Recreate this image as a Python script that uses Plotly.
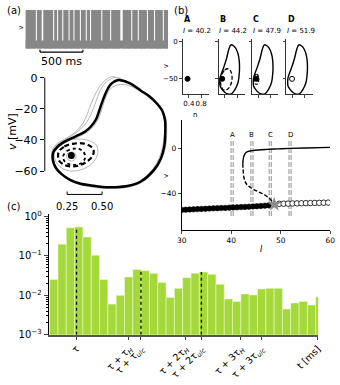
import plotly.graph_objects as go

W, H = 340, 385
def fx(p): return p / W
def fy(p): return 1 - p / H

FONT = "DejaVu Sans"
GRAY_TRACE = "#878787"
BAR_GREEN = "#a5d83b"

# ---------------- (a) voltage trace ----------------
burst_start_ms = [0, 134, 208, 335, 381, 441, 514, 571, 646, 714, 764, 895, 998, 1132, 1244, 1320, 1426, 1509, 1611]
burst_end_ms = [122, 190, 323, 369, 429, 502, 559, 634, 702, 752, 883, 986, 1105, 1232, 1308, 1414, 1497, 1599, 1660]
trace_len_ms = 1660
spike_peak_mv = 2
trough_mv = -66
subthreshold_top_mv = -52
scalebar_ms = [170, 670]

# ---------------- (a) phase portrait ----------------
n_cycle = [0.63, 0.70, 0.778, 0.84, 0.894, 0.93, 0.95, 0.952, 0.945, 0.92, 0.87, 0.778, 0.69, 0.59, 0.50, 0.43, 0.34, 0.27, 0.21, 0.17, 0.148, 0.15, 0.18, 0.22, 0.315, 0.38, 0.42, 0.455, 0.48, 0.505, 0.53, 0.555, 0.58, 0.61, 0.63]
v_cycle = [-1.5, -3.5, -8.3, -12, -16.7, -21, -27, -35, -44, -52, -59.4, -66.7, -69.5, -70.4, -70.2, -69.4, -68, -65.6, -62, -58, -53, -48, -44.5, -41.7, -37.5, -34.5, -31.3, -27, -21, -14.5, -9, -5, -2.8, -1.6, -1.5]

n_gray1 = [0.57, 0.65, 0.75, 0.85, 0.92, 0.955, 0.962, 0.955, 0.925, 0.875, 0.785, 0.69, 0.59, 0.50, 0.42, 0.33, 0.26, 0.20, 0.16, 0.14, 0.143, 0.17, 0.21, 0.27, 0.32, 0.365, 0.395, 0.425, 0.46, 0.50, 0.54, 0.57]
v_gray1 = [0.8, -1.5, -6.5, -13, -19.5, -26, -35, -44, -52.5, -60, -67.3, -70.3, -71.2, -71, -70.2, -68.5, -65.5, -61.5, -57, -52, -47, -43, -40.5, -37.5, -34, -29, -23, -16, -9, -3.5, -0.5, 0.8]
n_gray2 = [0.60, 0.68, 0.77, 0.85, 0.91, 0.945, 0.955, 0.95, 0.92, 0.87, 0.78, 0.69, 0.59, 0.50, 0.42, 0.33, 0.26, 0.20, 0.165, 0.145, 0.148, 0.175, 0.22, 0.29, 0.345, 0.39, 0.425, 0.455, 0.485, 0.52, 0.56, 0.60]
v_gray2 = [0.2, -2.5, -7.5, -13, -18.5, -24, -33, -43, -52, -59.7, -67, -70, -70.8, -70.6, -69.8, -68.2, -65.5, -61.5, -57.5, -52.5, -47.5, -43.5, -40.5, -37, -33, -28.5, -22.5, -15.5, -8.5, -3.5, -0.8, 0.2]
n_gray3 = [0.67, 0.74, 0.81, 0.87, 0.915, 0.94, 0.948, 0.94, 0.915, 0.865, 0.775, 0.69, 0.59, 0.50, 0.43, 0.34, 0.27, 0.215, 0.175, 0.155, 0.158, 0.19, 0.24, 0.33, 0.40, 0.445, 0.48, 0.505, 0.53, 0.56, 0.60, 0.67]
v_gray3 = [-4.5, -7, -11, -15.5, -20, -25, -32, -41, -50, -58.5, -66, -69.2, -70, -69.8, -69, -67.6, -65, -61.8, -58, -53.5, -48.5, -44.5, -41.5, -38, -34.5, -30.5, -25, -18, -11.5, -7, -4.8, -4.5]

n_ulc = [0.19, 0.23, 0.30, 0.37, 0.42, 0.44, 0.43, 0.39, 0.33, 0.27, 0.22, 0.19, 0.185, 0.19]
v_ulc = [-47.5, -44.2, -42.3, -42.3, -44.2, -47, -50.5, -54, -56.5, -57, -55.5, -53, -50, -47.5]
n_inner = [0.22, 0.25, 0.31, 0.36, 0.38, 0.35, 0.29, 0.24, 0.22]
v_inner = [-51, -47, -45.5, -47, -51, -55, -56, -54.5, -51]
n_grayloop = [0.16, 0.21, 0.30, 0.39, 0.455, 0.47, 0.44, 0.37, 0.28, 0.21, 0.165, 0.16]
v_grayloop = [-46, -41.5, -39.5, -40, -43, -48, -54, -58.5, -60, -58, -53, -46]
n_grayblob = [0.25, 0.28, 0.31, 0.31, 0.28, 0.25, 0.25]
v_grayblob = [-49, -47.8, -49, -52, -53.5, -52, -49]
fixed_point_nv = [0.28, -50]
n_scalebar = [0.25, 0.50]

# ---------------- (b) small phase panels ----------------
panel_names = ["A", "B", "C", "D"]
panel_I = [40.2, 44.2, 47.9, 51.9]
n_small_cycle = [0.67, 0.75, 0.83, 0.87, 0.88, 0.86, 0.83, 0.74, 0.62, 0.50, 0.41, 0.31, 0.25, 0.24, 0.25, 0.30, 0.36, 0.46, 0.54, 0.60, 0.67]
v_small_cycle = [-4.9, -8, -15.8, -25, -37.8, -48, -55.3, -64, -70.2, -70.5, -68.4, -64, -59.6, -54, -48.7, -42, -35.5, -22.4, -9.2, -4, -4.9]
n_dash_B = [0.30, 0.40, 0.52, 0.60, 0.64, 0.62, 0.56, 0.46, 0.36, 0.29, 0.26, 0.27, 0.30]
v_dash_B = [-45, -38, -36.5, -40, -48, -55, -61, -65, -65, -60, -53, -48, -45]
n_dash_C = [0.30, 0.36, 0.41, 0.41, 0.37, 0.31, 0.28, 0.28, 0.30]
v_dash_C = [-45, -44, -47, -53, -57, -57, -54, -48, -45]
fp_small_n = [0.36, 0.32, 0.34, 0.38]
fp_small_v = [-50, -50, -50, -50]
fp_small_stable = [True, True, True, False]

# ---------------- (b) bifurcation diagram ----------------
I_stable = [30.0, 30.8, 31.6, 32.4, 33.2, 34.0, 34.8, 35.6, 36.4, 37.2, 38.0, 38.8, 39.6, 40.4, 41.2, 42.0, 42.8, 43.6, 44.4, 45.2, 46.0, 46.8, 47.6]
v_stable = [-54.4, -54.2, -54.0, -53.9, -53.7, -53.5, -53.4, -53.2, -53.0, -52.9, -52.7, -52.6, -52.4, -52.2, -52.1, -51.9, -51.7, -51.5, -51.3, -51.1, -50.9, -50.6, -50.3]
I_unstable = [49.7, 50.6, 51.5, 52.4, 53.3, 54.2, 55.1, 56.0, 56.9, 57.8, 58.7, 59.6]
v_unstable = [-49.0, -48.9, -48.8, -48.7, -48.6, -48.5, -48.4, -48.3, -48.2, -48.1, -48.0, -47.9]
I_hopf, v_hopf = 48.7, -49.5
I_slc = [42.35, 42.4, 42.55, 42.75, 43.0, 43.5, 44.3, 45.5, 47.25, 49.5, 51.8, 55.0, 60.0]
v_slc = [-13.2, -10.5, -7.0, -4.8, -3.3, -2.3, -1.7, -1.1, -0.6, -0.1, 0.3, 0.7, 1.2]
I_ulc = [42.35, 42.4, 42.55, 42.8, 43.2, 43.9, 44.6, 45.6, 46.6, 47.8, 48.7]
v_ulc_b = [-13.2, -17.5, -24.8, -29, -32, -34.5, -36.3, -38.5, -40.6, -44.5, -49.5]
vline_v = [7, -60]
label_v = 12

# ---------------- (c) histogram ----------------
hist_vals = [0.025, 0.197, 0.51, 0.54, 0.30, 0.104, 0.025, 0.006, 0.010, 0.029, 0.045,
             0.042, 0.036, 0.021, 0.0088, 0.015, 0.028, 0.036, 0.039, 0.034, 0.019, 0.0081,
             0.007, 0.0108, 0.0102, 0.0145, 0.015, 0.015, 0.0045, 0.0064, 0.007, 0.0057, 0.0091]
bin_width = 1.0
t_range = [-0.12, 32.3]
tick_t = [3.23, 9.54, 10.98, 16.32, 18.25, 23.0, 25.46, 32.25]
tick_labels = ["τ", "τ + τ<sub><i>H</i></sub>", "τ + τ<sub><i>ulc</i></sub>",
               "τ + 2τ<sub><i>H</i></sub>", "τ + 2τ<sub><i>ulc</i></sub>",
               "τ + 3τ<sub><i>H</i></sub>", "τ + 3τ<sub><i>ulc</i></sub>", "t [ms]"]
dotted_t = [3.23, 10.98, 18.25]
ytick_vals = [1, 0.1, 0.01, 0.001]
ytick_text = ["10<sup>0</sup>", "10<sup>−1</sup>", "10<sup>−2</sup>", "10<sup>−3</sup>"]

fig = go.Figure()

# ---- trace
fig.add_trace(go.Bar(x=[trace_len_ms / 2], y=[subthreshold_top_mv - trough_mv], base=trough_mv,
                     width=[trace_len_ms], marker=dict(color=GRAY_TRACE, line_width=0),
                     xaxis="x", yaxis="y"))
fig.add_trace(go.Bar(x=[(s + e) / 2 for s, e in zip(burst_start_ms, burst_end_ms)],
                     y=[spike_peak_mv - trough_mv] * len(burst_start_ms), base=trough_mv,
                     width=[e - s for s, e in zip(burst_start_ms, burst_end_ms)],
                     marker=dict(color=GRAY_TRACE, line_width=0), xaxis="x", yaxis="y"))

# ---- phase portrait
for nn, vv in [(n_gray1, v_gray1), (n_gray2, v_gray2), (n_gray3, v_gray3), (n_grayloop, v_grayloop), (n_grayblob, v_grayblob)]:
    fig.add_trace(go.Scatter(x=nn, y=vv, mode="lines", line=dict(color="#b5b5b5", width=1, shape="spline"),
                             xaxis="x2", yaxis="y2"))
fig.add_trace(go.Scatter(x=n_cycle, y=v_cycle, mode="lines", line=dict(color="black", width=2.5, shape="spline"),
                         xaxis="x2", yaxis="y2"))
fig.add_trace(go.Scatter(x=n_ulc, y=v_ulc, mode="lines", line=dict(color="black", width=2.2, dash="5px,3px", shape="spline"),
                         xaxis="x2", yaxis="y2"))
fig.add_trace(go.Scatter(x=n_inner, y=v_inner, mode="lines", line=dict(color="black", width=1.8, dash="dot", shape="spline"),
                         xaxis="x2", yaxis="y2"))
fig.add_trace(go.Scatter(x=[fixed_point_nv[0]], y=[fixed_point_nv[1]], mode="markers",
                         marker=dict(color="black", size=7), xaxis="x2", yaxis="y2"))

# ---- small panels
for k in range(4):
    ax = str(3 + k)
    if k > 0:
        fig.add_trace(go.Scatter(x=n_small_cycle, y=v_small_cycle, mode="lines",
                                 line=dict(color="black", width=1.4, shape="spline"),
                                 xaxis="x" + ax, yaxis="y" + ax))
    if k == 1:
        fig.add_trace(go.Scatter(x=n_dash_B, y=v_dash_B, mode="lines",
                                 line=dict(color="black", width=1.3, dash="4px,2px", shape="spline"),
                                 xaxis="x" + ax, yaxis="y" + ax))
    if k == 2:
        fig.add_trace(go.Scatter(x=n_dash_C, y=v_dash_C, mode="lines",
                                 line=dict(color="black", width=1.3, dash="3px,2px", shape="spline"),
                                 xaxis="x" + ax, yaxis="y" + ax))
    filled = fp_small_stable[k]
    fig.add_trace(go.Scatter(x=[fp_small_n[k]], y=[fp_small_v[k]], mode="markers",
                             marker=dict(color="black" if filled else "white", size=5,
                                         line=dict(color="black", width=1)),
                             xaxis="x" + ax, yaxis="y" + ax))

# ---- bifurcation diagram
for Iv in panel_I:
    fig.add_trace(go.Scatter(x=[Iv, Iv], y=vline_v, mode="lines",
                             line=dict(color="#9a9a9a", width=3.2, dash="5px,2px"), xaxis="x7", yaxis="y7"))
    fig.add_trace(go.Scatter(x=[Iv, Iv], y=vline_v, mode="lines",
                             line=dict(color="white", width=1), xaxis="x7", yaxis="y7"))
fig.add_trace(go.Scatter(x=I_slc, y=v_slc, mode="lines", line=dict(color="black", width=1.4, shape="spline"),
                         xaxis="x7", yaxis="y7"))
fig.add_trace(go.Scatter(x=I_ulc, y=v_ulc_b, mode="lines", line=dict(color="black", width=1.4, dash="4px,2px", shape="spline"),
                         xaxis="x7", yaxis="y7"))
fig.add_trace(go.Scatter(x=I_stable, y=v_stable, mode="markers",
                         marker=dict(color="black", size=5.5, line=dict(color="black", width=0.5)),
                         xaxis="x7", yaxis="y7"))
fig.add_trace(go.Scatter(x=I_unstable, y=v_unstable, mode="markers",
                         marker=dict(color="white", size=5.5, line=dict(color="black", width=0.8)),
                         xaxis="x7", yaxis="y7"))
fig.add_trace(go.Scatter(x=[I_hopf], y=[v_hopf], mode="markers",
                         marker=dict(color="#8c8c8c", size=11, symbol="star"), xaxis="x7", yaxis="y7"))

# ---- histogram
fig.add_trace(go.Bar(x=[(i + 0.5) * bin_width for i in range(len(hist_vals))], y=hist_vals,
                     width=[bin_width] * len(hist_vals),
                     marker=dict(color=BAR_GREEN, line=dict(color="rgba(235,250,210,0.8)", width=0.7)),
                     xaxis="x8", yaxis="y8"))
for t in dotted_t:
    fig.add_trace(go.Scatter(x=[t, t], y=[ytick_vals[-1], hist_vals[int(t // bin_width)]], mode="lines",
                             line=dict(color="black", width=1.3, dash="dot"), xaxis="x8", yaxis="y8"))

tickfont_small = dict(family=FONT, size=7, color="black")
hidden = dict(visible=False, showgrid=False, zeroline=False)

layout = dict(
    width=W, height=385, margin=dict(l=0, r=0, t=0, b=0),
    paper_bgcolor="white", plot_bgcolor="rgba(0,0,0,0)", showlegend=False, barmode="overlay",
    font=dict(family=FONT, color="black"),
    xaxis=dict(domain=[fx(21), fx(168)], range=[0, trace_len_ms], anchor="y", **hidden),
    yaxis=dict(domain=[fy(46), fy(4)], range=[-68, 4], anchor="x", **hidden),
    xaxis2=dict(domain=[fx(41), fx(168)], range=[0.09, 0.972], anchor="y2", **hidden),
    yaxis2=dict(domain=[fy(190), fy(70)], range=[-71.9, 3.1], anchor="x2", showgrid=False, zeroline=False,
                showline=False, tickvals=[0, -20, -40, -60], ticks="outside", ticklen=4, tickwidth=1,
                tickcolor="black", tickfont=dict(family=FONT, size=11)),
    xaxis7=dict(domain=[fx(182), fx(335)], range=[30, 60], anchor="y7", showgrid=False, zeroline=False,
                showline=True, linecolor="black", linewidth=0.8, tickvals=[30, 40, 50, 60], ticks="outside",
                ticklen=3, tickwidth=0.8, tickangle=0, tickfont=dict(family=FONT, size=7.5)),
    yaxis7=dict(domain=[fy(232), fy(118)], range=[-72.6, 25.9], anchor="x7", showgrid=False, zeroline=False,
                showline=True, linecolor="black", linewidth=0.8, tickvals=[0, -40], ticks="outside",
                ticklen=3, tickwidth=0.8, tickfont=dict(family=FONT, size=7.5)),
    xaxis8=dict(domain=[fx(45), fx(322.7)], range=t_range, anchor="y8", showgrid=False, zeroline=False,
                showline=True, linecolor="#555555", linewidth=1.5, tickvals=tick_t, ticktext=tick_labels,
                ticks="outside", ticklen=3, tickwidth=1, tickangle=-45, tickfont=dict(family=FONT, size=9.5)),
    yaxis8=dict(domain=[fy(339.5), fy(215.5)], type="log", range=[-3, 0.05], anchor="x8", showgrid=False,
                zeroline=False, showline=True, linecolor="black", linewidth=1, tickvals=ytick_vals,
                ticktext=ytick_text, ticks="outside", ticklen=4, tickwidth=1, tickfont=dict(family=FONT, size=10),
                minor=dict(ticks="outside", ticklen=2, tickwidth=0.7, tickcolor="black",
                           tickvals=[m * 10 ** e for e in [-3, -2, -1] for m in range(2, 10)])),
)
panel_left = [183, 220, 254.5, 290]
for k in range(4):
    ax = str(3 + k)
    layout["xaxis" + ax] = dict(domain=[fx(panel_left[k]), fx(panel_left[k] + 27)], range=[0.2, 1.05],
                                anchor="y" + ax, showgrid=False, zeroline=False, showline=True,
                                linecolor="#333", linewidth=0.8, tickvals=[0.4, 0.8], ticks="outside",
                                ticklen=2.5, tickwidth=0.7, tickangle=0, showticklabels=(k == 0),
                                tickfont=tickfont_small)
    layout["yaxis" + ax] = dict(domain=[fy(92), fy(35)], range=[-71, 3.9], anchor="x" + ax,
                                showgrid=False, zeroline=False, showline=True, linecolor="#333",
                                linewidth=0.8, tickvals=[0, -50], ticks="outside", ticklen=2.5,
                                tickwidth=0.7, showticklabels=(k == 0), tickfont=tickfont_small)
fig.update_layout(**layout)

shapes = []
shapes.append(dict(type="line", xref="x", yref="paper", x0=scalebar_ms[0], x1=scalebar_ms[1],
                   y0=fy(48.5), y1=fy(48.5), line=dict(color="black", width=1.2)))
for t in scalebar_ms:
    shapes.append(dict(type="line", xref="x", yref="paper", x0=t, x1=t, y0=fy(48.5), y1=fy(46),
                       line=dict(color="black", width=1.2)))
shapes.append(dict(type="line", xref="paper", yref="y2", x0=fx(41), x1=fx(41), y0=0, y1=-60,
                   line=dict(color="black", width=1)))
shapes.append(dict(type="line", xref="x2", yref="paper", x0=n_scalebar[0], x1=n_scalebar[1],
                   y0=fy(195), y1=fy(195), line=dict(color="black", width=1)))
for n in n_scalebar:
    shapes.append(dict(type="line", xref="x2", yref="paper", x0=n, x1=n, y0=fy(195), y1=fy(192),
                       line=dict(color="black", width=1)))
fig.update_layout(shapes=shapes)

ann = []
def A(x, y, text, size, **kw):
    d = dict(x=x, y=y, xref="paper", yref="paper", text=text, showarrow=False,
             xanchor="center", yanchor="middle",
             font=dict(family=FONT, size=size, color="black"))
    d.update(kw)
    ann.append(d)

A(fx(0), fy(6), "(a)", 10, xanchor="left")
A(fx(172), fy(6), "(b)", 10, xanchor="left")
A(fx(0), fy(207), "(c)", 10, xanchor="left")
A(fx(17), fy(24), "v", 7, textangle=-90)
A(fx(58), fy(58), "500 ms", 11)
A(fx(7), fy(130), "<i>v</i> [mV]", 11, textangle=-90)
for n in n_scalebar:
    ann.append(dict(x=n, y=fy(207), xref="x2", yref="paper", text=f"{n:.2f}", showarrow=False,
                    xanchor="center", yanchor="middle", font=dict(family=FONT, size=10, color="black")))
for k in range(4):
    A(fx(panel_left[k] - 1), fy(15), f"<b>{panel_names[k]}</b>", 8, xanchor="left")
    A(fx(panel_left[k] - 1.5), fy(27), f"<i>I</i> = {panel_I[k]}", 7, xanchor="left")
    ann.append(dict(x=panel_I[k], y=label_v, xref="x7", yref="y7", text=panel_names[k], showarrow=False,
                    xanchor="center", yanchor="middle", font=dict(family=FONT, size=7, color="black")))
A(fx(166), fy(63), "v", 7, textangle=-90)
A(fx(196), fy(113), "n", 7)
A(fx(166), fy(176), "v", 7, textangle=-90)
A(fx(264), fy(252), "<i>I</i>", 8)
fig.update_layout(annotations=ann)

fig.write_html("out.html", config={"displayModeBar": False},
               post_script="document.body.style.margin='0px';document.body.style.overflow='hidden';")
